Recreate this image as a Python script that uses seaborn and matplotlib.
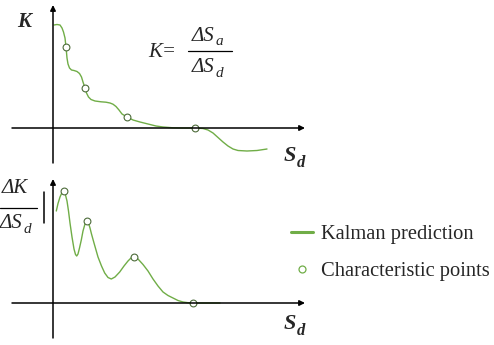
import matplotlib
matplotlib.use('Agg')
import matplotlib.pyplot as plt
import seaborn as sns
from matplotlib.lines import Line2D

# Data (arbitrary units; origin at axis crossing)
k_x = [0.1, 0.4, 0.7, 0.9, 1.05, 1.2, 1.3, 1.4, 1.5, 1.65, 1.85, 2.1, 2.4, 2.65,
       2.85, 3.0, 3.2, 3.35, 3.55, 3.8, 4.2, 4.8, 5.3, 5.7, 6.0, 6.3, 6.6, 6.9,
       7.4, 8.0, 8.7, 9.5, 10.3, 11.0, 12.0, 13.0, 14.2, 15.0, 15.5, 16.0, 16.5,
       17.0, 17.5, 18.0, 18.5, 19.4, 20.4, 21.4]
k_y = [10.3, 10.35, 10.3, 10.0, 9.6, 9.0, 8.1, 7.0, 6.4, 6.0, 5.8, 5.75, 5.65, 5.45,
       5.1, 4.6, 4.0, 3.5, 3.1, 2.85, 2.7, 2.62, 2.58, 2.5, 2.38, 2.15, 1.8, 1.4,
       1.1, 0.8, 0.6, 0.4, 0.2, 0.1, 0.02, 0.0, 0.0, -0.05, -0.2, -0.5, -0.95,
       -1.4, -1.8, -2.1, -2.25, -2.3, -2.25, -2.1]
k_pts_x = [1.3, 3.2, 7.4, 14.2]
k_pts_y = [8.1, 4.0, 1.1, 0.0]

dk_x = [0.33, 0.5, 0.7, 0.9, 1.07, 1.25, 1.4, 1.55, 1.7, 1.9, 2.1, 2.25, 2.37, 2.5,
        2.65, 2.83, 3.0, 3.17, 3.3, 3.4, 3.55, 3.7, 3.85, 4.1, 4.5, 4.85, 5.17,
        5.5, 5.83, 6.2, 6.67, 7.1, 7.5, 7.8, 8.1, 8.5, 9.0, 9.5, 10.0, 10.5, 11.0,
        11.5, 12.0, 12.5, 13.0, 13.5, 14.0, 15.0, 16.7]
dk_y = [9.2, 9.95, 10.6, 11.05, 11.2, 10.8, 10.2, 9.2, 8.0, 6.6, 5.4, 4.85, 4.7, 4.9,
        5.5, 6.3, 7.2, 7.8, 8.15, 8.2, 8.0, 7.5, 6.9, 6.0, 4.6, 3.7, 3.0,
        2.55, 2.4, 2.6, 3.1, 3.7, 4.2, 4.5, 4.6, 4.4, 3.85, 3.2, 2.4, 1.7, 1.1,
        0.75, 0.5, 0.25, 0.1, 0.03, 0.0, 0.0, 0.0]
dk_pts_x = [1.07, 3.4, 8.1, 14.0]
dk_pts_y = [11.2, 8.2, 4.6, 0.0]

labels = ['Kalman prediction', 'Characteristic points']

GREEN = '#70AD47'
EDGE = '#4d6b3a'
W, H = 494, 345

sns.set_theme(style='white')
plt.rcParams['font.family'] = ['Liberation Serif', 'DejaVu Serif']

fig = plt.figure(figsize=(W / 100, H / 100), dpi=100)

# top panel: pixel rows 0..165, bottom panel: 170..345
ax_top = fig.add_axes([0, 1 - 165 / H, 1, 165 / H])
ax_bot = fig.add_axes([0, 0, 1, 175 / H])

ax_top.set_xlim(-5.3, 44.1)
ax_top.set_ylim(-3.7, 12.8)
ax_bot.set_xlim(-5.3, 44.1)
ax_bot.set_ylim(-4.2, 13.3)


def draw_axes(ax, ytop, ybot):
    arrow = dict(arrowstyle='-|>', lw=1.1, color='black', mutation_scale=8,
                 shrinkA=0, shrinkB=0)
    ax.annotate('', xy=(25.2, 0), xytext=(-4.1, 0), arrowprops=arrow)
    ax.annotate('', xy=(0, ytop), xytext=(0, ybot), arrowprops=arrow)
    ax.set_axis_off()


for ax, xs, ys, px, py in [(ax_top, k_x, k_y, k_pts_x, k_pts_y),
                           (ax_bot, dk_x, dk_y, dk_pts_x, dk_pts_y)]:
    sns.lineplot(x=xs, y=ys, sort=False, estimator=None, color=GREEN,
                 linewidth=1.0, ax=ax, zorder=2)
    sns.scatterplot(x=px, y=py, marker='o', s=24, facecolor='white',
                    edgecolor=EDGE, linewidth=0.8, ax=ax, zorder=3)

draw_axes(ax_top, 12.3, -3.5)
draw_axes(ax_bot, 12.4, -3.5)


def ftext(x, y, s, **kw):
    return fig.text(x / W, 1 - y / H, s, **kw)


def sub_text(main, s, size, dy=0.0):
    # subscript placed after the main text, dy measured from its bbox bottom
    return ax_top.annotate(s, xy=(1, 0), xycoords=main, xytext=(0.5, dy),
                           textcoords='offset points', fontsize=size,
                           fontstyle='italic', fontweight=main.get_fontweight(),
                           ha='left', va='baseline', annotation_clip=False)


# axis labels
ftext(17, 27, 'K', fontsize=15, fontstyle='italic', fontweight='bold',
      ha='left', va='baseline')
for yb in (161, 329):
    s = ftext(284, yb, 'S', fontsize=16, fontstyle='italic', fontweight='bold',
              ha='left', va='baseline')
    sub_text(s, 'd', 12, dy=-0.5)

# formula K = dSa / dSd
ftext(148, 57, 'K=', fontsize=15, fontstyle='italic', ha='left', va='baseline')
num = ftext(192, 41, 'ΔS', fontsize=15, fontstyle='italic', ha='left',
            va='baseline')
sub_text(num, 'a', 11, dy=0.5)
fig.add_artist(Line2D([188 / W, 232 / W], [1 - 50.5 / H, 1 - 50.5 / H],
                      color='black', lw=0.9))
den = ftext(192, 72, 'ΔS', fontsize=15, fontstyle='italic', ha='left',
            va='baseline')
sub_text(den, 'd', 11, dy=0.0)

# left label dK / dSd
ftext(28, 193, 'ΔK', fontsize=15, fontstyle='italic', ha='right',
      va='baseline')
fig.add_artist(Line2D([0, 37 / W], [1 - 208 / H, 1 - 208 / H],
                      color='black', lw=0.9))
lden = ftext(0, 228, 'ΔS', fontsize=15, fontstyle='italic', ha='left',
             va='baseline')
sub_text(lden, 'd', 11, dy=0.0)
fig.add_artist(Line2D([44 / W, 44 / W], [1 - 192 / H, 1 - 223 / H],
                      color='black', lw=1.1))

# legend
handles = [Line2D([], [], color=GREEN, lw=2.2),
           Line2D([], [], color=GREEN, lw=0, marker='o', markersize=5,
                  markerfacecolor='white', markeredgecolor=GREEN,
                  markeredgewidth=0.9)]
fig.legend(handles, labels, loc='upper left', bbox_to_anchor=(291 / W, 1 - 225 / H),
           frameon=False, fontsize=14.8, handlelength=1.07, handletextpad=0.4,
           labelspacing=0.84, borderpad=0, borderaxespad=0)

fig.savefig('out.png', dpi=100)
plt.close(fig)
